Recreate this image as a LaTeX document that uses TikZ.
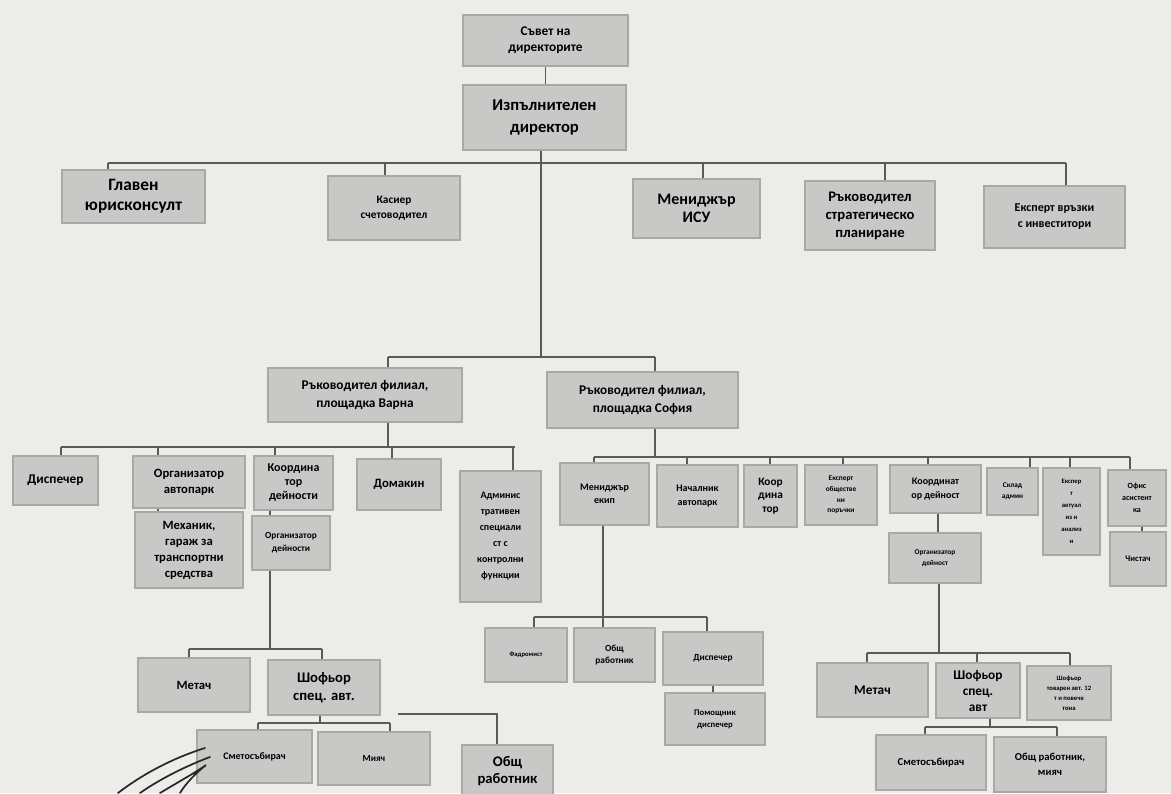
\documentclass[tikz,border=0pt]{standalone}
\usepackage{fontspec}
\setmainfont{Carlito}
\definecolor{bg}{RGB}{236,236,233}
\definecolor{boxfill}{RGB}{200,200,198}
\definecolor{boxedge}{RGB}{168,168,166}
\definecolor{lncol}{RGB}{90,90,90}
\definecolor{ink}{RGB}{40,40,40}
\newcommand\fb[2]{\bfseries\fontsize{#1}{#2}\selectfont}
\newcommand\bx[7][]{%
 \pgfmathsetmacro\bxcx{(#3+#4)/2}%
 \pgfmathsetmacro\bxcy{(#5+#6)/2}%
 \pgfmathsetmacro\bxw{(#4-#3)*0.75}%
 \pgfmathsetmacro\bxh{(#6-#5)*0.75}%
 \node[box,minimum width=\bxw pt,minimum height=\bxh pt,#1] (#2) at (\bxcx,\bxcy) {#7};}
\newcommand\dropto[3]{\coordinate (#1) at (#2); \draw[ln] (#1) -- (#1 |- #3.north);}
\begin{document}
\begin{tikzpicture}[x=0.75pt,y=-0.75pt,
 box/.style={draw=boxedge,fill=boxfill,line width=1.3pt,inner sep=0pt,align=center,text=black},
 ln/.style={draw=lncol,line width=1.1pt},
 scrib/.style={draw=ink,line width=1.3pt,line cap=round}]
\fill[bg] (0,0) rectangle (1171,793);
\useasboundingbox (0,0) rectangle (1171,793);

% ---------- top level ----------
\bx[font=\fb{10}{12}]{sovet}{463}{628}{15}{66}{Съвет на\\директорите}
\bx[font=\fb{12.5}{16}]{id}{463}{626}{85}{150}{Изпълнителен\\директор}
\bx[font=\fb{13}{15}]{gl}{62}{205}{170}{223}{Главен\\юрисконсулт}
\bx[font=\fb{8.5}{11}]{kas}{328}{460}{176}{240}{Касиер\\счетоводител}
\bx[font=\fb{12}{14}]{isu}{633}{760}{179}{238}{Мениджър\\ИСУ}
\bx[font=\fb{11}{13.5}]{strat}{805}{935}{181}{250}{Ръководител\\стратегическо\\планиране}
\bx[font=\fb{9}{12}]{inv}{984}{1125}{186}{248}{Експерт връзки\\с инвеститори}

\draw[ln] (sovet.south) -- (sovet.south |- id.north);
\coordinate (b1L) at (108,163);
\coordinate (b1R) at (1066,163);
\coordinate (trunk) at (541,163);
\draw[ln] (b1L) -- (b1R);
\draw[ln] (id.south -| trunk) -- (trunk);
\dropto{dgl}{108,163}{gl}
\dropto{dkas}{385,163}{kas}
\dropto{disu}{703,163}{isu}
\dropto{dstrat}{885,163}{strat}
\dropto{dinv}{1066,163}{inv}

% ---------- branches ----------
\bx[font=\fb{10}{13}]{varna}{268}{462}{368}{422}{Ръководител филиал,\\площадка Варна}
\bx[font=\fb{10}{13}]{sofia}{547}{738}{372}{428}{Ръководител филиал,\\площадка София}
\coordinate (bm) at (541,357);
\draw[ln] (trunk) -- (bm);
\draw[ln] (388,357) -- (655,357);
\dropto{dvarna}{388,357}{varna}
\dropto{dsofia}{655,357}{sofia}

% ---------- Varna ----------
\bx[font=\fb{10}{12}]{disp}{13}{98}{456}{505}{Диспечер}
\bx[font=\fb{9.5}{12}]{orga}{133}{245}{456}{508}{Организатор\\автопарк}
\bx[font=\fb{9}{10.5}]{koord}{254}{333}{456}{510}{Координа\\тор\\дейности}
\bx[font=\fb{9.5}{12}]{domakin}{357}{441}{459}{510}{Домакин}
\bx[font=\fb{7.5}{12}]{admin}{460}{541}{471}{602}{Админис\\тративен\\специали\\ст с\\контролни\\функции}
\bx[font=\fb{9.5}{12}]{mehanik}{135}{243}{512}{588}{Механик,\\гараж за\\транспортни\\средства}
\bx[font=\fb{7}{10}]{orgd}{252}{330}{516}{570}{Организатор\\дейности}

\coordinate (vb) at (388,447);
\draw[ln] (varna.south -| vb) -- (vb);
\draw[ln] (61,447) -- (515,447);
\dropto{ddisp}{61,447}{disp}
\dropto{dorga}{158,447}{orga}
\dropto{dkoord}{275,447}{koord}
\dropto{ddom}{392,447}{domakin}
\dropto{dadmin}{513,447}{admin}
\coordinate (omx) at (158,0);
\draw[ln] (orga.south -| omx) -- (mehanik.north -| omx);
\coordinate (kox) at (270,0);
\draw[ln] (koord.south -| kox) -- (orgd.north -| kox);

\bx[font=\fb{9.5}{11}]{metach}{138}{250}{658}{712}{Метач}
\bx[font=\fb{11}{14}]{shofor}{268}{380}{660}{715}{Шофьор\\спец. авт.}
\bx[font=\fb{7.5}{9}]{smet}{197}{312}{730}{783}{Сметосъбирач}
\bx[font=\fb{7}{9}]{miyach}{318}{430}{732}{785}{Мияч}
\bx[font=\fb{11}{13}]{obsh}{462}{553}{745}{797}{Общ\\работник}

\coordinate (ob) at (270,649);
\draw[ln] (orgd.south -| ob) -- (ob);
\draw[ln] (189,649) -- (322,649);
\dropto{dmetach}{189,649}{metach}
\dropto{dshofor}{322,649}{shofor}
\coordinate (sb) at (320,723);
\draw[ln] (shofor.south -| sb) -- (sb);
\draw[ln] (258,723) -- (390,723);
\dropto{dsmet}{258,723}{smet}
\dropto{dmiyach}{390,723}{miyach}
\coordinate (free) at (398,714);
\coordinate (fc) at (497,714);
\draw[ln] (free) -- (fc) -- (fc |- obsh.north);

% ---------- Sofia ----------
\bx[font=\fb{7.5}{10}]{men}{560}{649}{463}{525}{Мениджър\\екип}
\bx[font=\fb{7.5}{10}]{nach}{657}{738}{465}{527}{Началник\\автопарк}
\bx[font=\fb{8.5}{10}]{koor}{744}{797}{465}{527}{Коор\\дина\\тор}
\bx[font=\fb{5.5}{8}]{eop}{805}{877}{465}{525}{Експерт\\обществе\\ни\\поръчки}
\bx[font=\fb{7.5}{10}]{kdey}{890}{981}{465}{513}{Координат\\ор дейност}
\bx[font=\fb{5.5}{8}]{sklad}{987}{1038}{468}{515}{Склад\\админ}
\bx[font=\fb{5}{9}]{eak}{1043}{1100}{468}{555}{Експер\\т\\актуал\\из и\\анализ\\и}
\bx[font=\fb{6}{9}]{ofis}{1108}{1166}{470}{526}{Офис\\асистент\\ка}
\bx[font=\fb{6.5}{8}]{chist}{1110}{1166}{532}{586}{Чистач}
\bx[font=\fb{5.5}{8}]{orgd2}{889}{981}{533}{583}{Организатор\\дейност}

\coordinate (sfb) at (655,457);
\draw[ln] (sofia.south -| sfb) -- (sfb);
\draw[ln] (594,457) -- (1130,457);
\dropto{dmen}{594,457}{men}
\dropto{dnach}{687,457}{nach}
\dropto{dkoor}{770,457}{koor}
\dropto{deop}{843,457}{eop}
\dropto{dkdey}{928,457}{kdey}
\dropto{dsklad}{1030,457}{sklad}
\dropto{deak}{1070,457}{eak}
\dropto{dofis}{1130,457}{ofis}
\coordinate (ocx) at (1142,0);
\draw[ln] (ofis.south -| ocx) -- (chist.north -| ocx);
\coordinate (kdx) at (938,0);
\draw[ln] (kdey.south -| kdx) -- (orgd2.north -| kdx);

\bx[font=\fb{5}{7}]{fadr}{485}{567}{628}{682}{Фадромист}
\bx[font=\fb{7}{9}]{obsh2}{574}{655}{628}{682}{Общ\\работник}
\bx[font=\fb{7}{9}]{disp2}{663}{763}{632}{685}{Диспечер}
\bx[font=\fb{6.5}{9}]{pom}{665}{765}{693}{745}{Помощник\\диспечер}
\coordinate (mb) at (603,617);
\draw[ln] (men.south -| mb) -- (mb);
\draw[ln] (534,617) -- (707,617);
\dropto{dfadr}{534,617}{fadr}
\dropto{dobsh2}{603,617}{obsh2}
\dropto{ddisp2}{707,617}{disp2}
\coordinate (dpx) at (713,0);
\draw[ln] (disp2.south -| dpx) -- (pom.north -| dpx);

\bx[font=\fb{10}{12}]{metach2}{817}{928}{663}{717}{Метач}
\bx[font=\fb{10}{12}]{shofor2}{936}{1020}{663}{718}{Шофьор\\спец.\\авт}
\bx[font=\fb{5}{7.5}]{shtov}{1027}{1111}{666}{720}{Шофьор\\товарен авт. 12\\т и повече\\тона}
\bx[font=\fb{8}{10}]{smet2}{876}{986}{735}{790}{Сметосъбирач}
\bx[font=\fb{8}{11}]{obm}{994}{1106}{737}{792}{Общ работник,\\мияч}

\coordinate (o2b) at (939,653);
\draw[ln] (orgd2.south -| o2b) -- (o2b);
\draw[ln] (867,653) -- (1070,653);
\dropto{dmetach2}{867,653}{metach2}
\dropto{dshofor2}{977,653}{shofor2}
\dropto{dshtov}{1070,653}{shtov}
\coordinate (s2b) at (990,727);
\draw[ln] (shofor2.south -| s2b) -- (s2b);
\draw[ln] (925,727) -- (1057,727);
\dropto{dsmet2}{925,727}{smet2}
\dropto{dobm}{1057,727}{obm}

% ---------- pen scribble ----------
\draw[scrib] (118,793) .. controls (140,776) and (170,759) .. (205,748);
\draw[scrib] (140,793) .. controls (160,779) and (186,766) .. (210,757);
\draw[scrib] (160,793) .. controls (180,781) and (198,771) .. (206,765) .. controls (196,773) and (186,783) .. (180,793);
\end{tikzpicture}
\end{document}
